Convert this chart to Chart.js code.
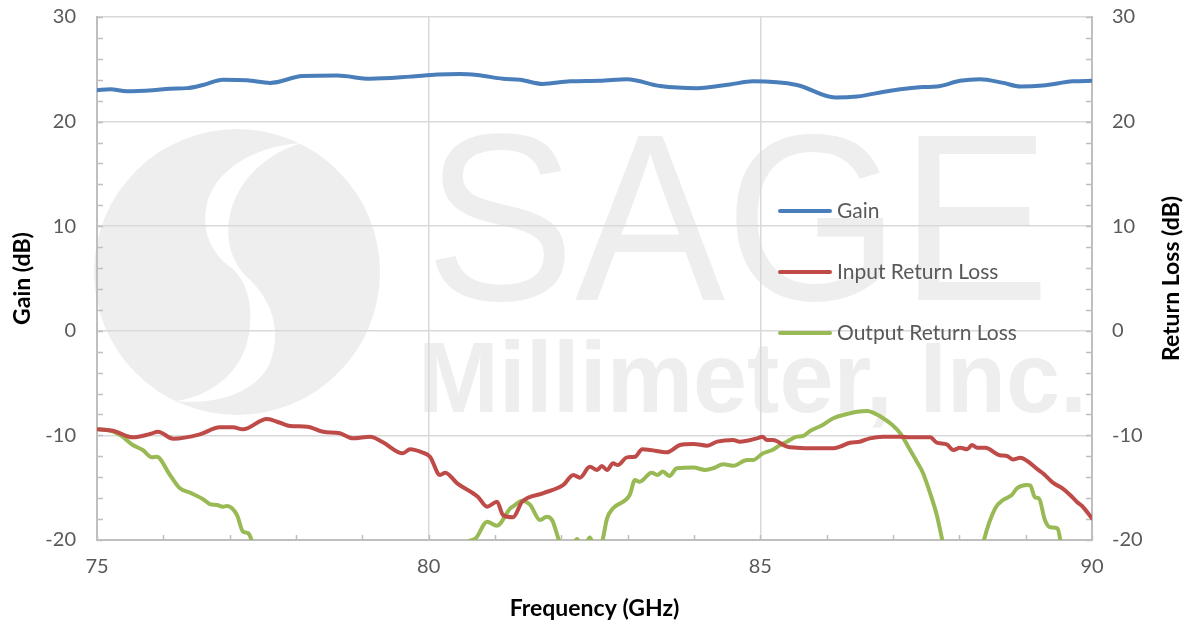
<!DOCTYPE html>
<html><head><meta charset="utf-8">
<script src="https://cdn.jsdelivr.net/npm/chart.js@4.4.1/dist/chart.umd.min.js"></script>
<style>html,body{margin:0;padding:0;background:#fff;}canvas{display:block;}</style>
</head><body>
<canvas id="c" width="1187" height="626"></canvas>
<script>
// ---------- data ----------
const seriesNames = ['Gain', 'Input Return Loss', 'Output Return Loss'];
const xTitle = 'Frequency (GHz)';
const yTitle = 'Gain (dB)';
const y2Title = 'Return Loss (dB)';
const xMin = 75, xMax = 90, xStep = 5, xMinorStep = 1;
const yMin = -20, yMax = 30, yStep = 10, yMinorStep = 2;
const watermarkWord = 'SAGE';
const watermarkLine = 'Millimeter, Inc.';

const gainFreq = [75.0,75.2,75.45,75.84,76.1,76.36,76.6,76.9,77.26,77.61,78.1,78.62,79.12,79.72,80.13,80.47,80.73,81.12,81.38,81.72,82.13,82.58,82.99,83.49,84.05,84.54,84.89,85.55,86.13,86.46,86.96,87.45,87.66,88.01,88.31,88.66,88.92,89.26,89.71,90.0];
const gainDb   = [23.0,23.1,22.9,23.0,23.15,23.2,23.5,24.0,23.95,23.7,24.35,24.4,24.1,24.3,24.5,24.55,24.45,24.1,24.0,23.6,23.85,23.9,24.05,23.4,23.2,23.55,23.85,23.5,22.3,22.4,22.95,23.3,23.35,23.9,24.05,23.7,23.35,23.45,23.85,23.9];

const inFreq = [75.02,75.24,75.54,75.8,75.92,76.15,76.55,76.85,77.05,77.2,77.56,77.76,77.91,78.17,78.41,78.66,78.86,79.12,79.31,79.61,79.72,79.91,80.02,80.17,80.25,80.43,80.74,80.88,81.03,81.12,81.27,81.41,81.72,82.03,82.18,82.28,82.43,82.54,82.61,82.69,82.78,82.85,82.99,83.11,83.22,83.34,83.59,83.79,83.99,84.2,84.35,84.59,84.69,84.95,85.03,85.1,85.19,85.4,85.55,85.79,86.1,86.2,86.35,86.5,86.65,86.85,87.11,87.26,87.56,87.66,87.81,87.91,88.01,88.12,88.19,88.27,88.39,88.61,88.72,88.81,88.92,89.04,89.19,89.26,89.41,89.55,89.67,89.77,89.85,90.0];
const inDb   = [-9.42,-9.55,-10.18,-9.87,-9.65,-10.32,-9.9,-9.23,-9.23,-9.42,-8.43,-8.79,-9.1,-9.17,-9.65,-9.8,-10.28,-10.12,-10.66,-11.71,-11.33,-11.65,-12.04,-13.78,-13.57,-14.58,-15.86,-16.82,-16.34,-17.61,-17.83,-16.34,-15.54,-14.74,-13.78,-14.04,-13.0,-13.3,-12.93,-13.3,-12.67,-12.83,-12.1,-12.04,-11.33,-11.4,-11.62,-10.92,-10.82,-10.98,-10.6,-10.44,-10.6,-10.28,-10.12,-10.44,-10.44,-11.08,-11.18,-11.24,-11.24,-11.08,-10.7,-10.6,-10.28,-10.12,-10.12,-10.18,-10.18,-10.7,-10.86,-11.4,-11.18,-11.33,-10.92,-11.18,-11.18,-11.9,-11.97,-12.3,-12.14,-12.52,-13.3,-13.62,-14.52,-15.05,-15.7,-16.34,-16.75,-17.93];

const outFreq = [75.02,75.17,75.35,75.54,75.69,75.83,75.9,76.1,76.25,76.4,76.6,76.7,76.81,76.9,76.96,77.11,77.2,77.28,77.34,77.45,80.45,80.58,80.7,80.88,81.03,81.23,81.27,81.41,81.53,81.68,81.78,81.86,81.98,82.1,82.24,82.32,82.43,82.52,82.61,82.69,82.78,83.03,83.11,83.18,83.36,83.45,83.53,83.63,83.74,83.99,84.17,84.29,84.44,84.59,84.8,84.89,85.04,85.18,85.3,85.4,85.55,85.64,85.75,85.94,86.1,86.31,86.46,86.61,86.7,86.85,86.99,87.11,87.23,87.36,87.45,87.56,87.66,87.75,87.9,88.25,88.36,88.54,88.66,88.79,88.87,89.02,89.07,89.14,89.2,89.29,89.37,89.48,89.53,89.62,90.0];
const outDb   = [-9.42,-9.49,-9.97,-10.92,-11.4,-12.1,-12.04,-13.78,-15.05,-15.47,-16.1,-16.56,-16.65,-16.82,-16.75,-17.61,-19.2,-19.36,-20.3,-24,-24,-20.3,-19.9,-18.25,-18.63,-16.97,-16.8,-16.24,-16.65,-18.09,-17.77,-18.09,-20.3,-21.5,-19.9,-21.0,-19.75,-21.0,-20.3,-17.93,-16.97,-15.7,-14.27,-14.43,-13.57,-13.78,-13.46,-13.88,-13.14,-13.08,-13.3,-13.14,-12.76,-12.9,-12.35,-12.35,-11.71,-11.4,-10.92,-10.6,-10.12,-10.06,-9.58,-9.0,-8.36,-7.95,-7.73,-7.67,-7.83,-8.36,-9.0,-9.8,-11.08,-12.52,-13.57,-15.54,-17.61,-20.2,-24,-24,-20.3,-16.97,-16.18,-15.7,-15.05,-14.74,-14.8,-15.92,-16.02,-18.09,-18.79,-18.88,-20.3,-24,-25];

const seriesColors = ['#4a7ebb', '#be4b48', '#98b954'];

// ---------- plugins ----------
function fitText(ctx, text, weight, family, left, baseline, width, capH) {
  const size = capH / 0.716;
  ctx.font = weight + ' ' + size + 'px ' + family;
  const w = ctx.measureText(text).width;
  ctx.save();
  ctx.translate(left, baseline);
  ctx.scale(width / w, 1);
  ctx.fillText(text, 0, 0);
  ctx.restore();
}

const watermark = {
  id: 'watermark',
  beforeDraw(chart) {
    const ctx = chart.ctx;
    ctx.save();
    ctx.fillStyle = '#eeeeee';
    ctx.beginPath();
    ctx.ellipse(237, 272, 143, 143, 0, 0, Math.PI * 2);
    ctx.fill();
    ctx.fillStyle = '#ffffff';
    ctx.beginPath();
    ctx.moveTo(302, 143);
    ctx.bezierCurveTo(252, 146, 212, 172, 206, 208);
    ctx.bezierCurveTo(202, 236, 214, 256, 233, 269);
    ctx.bezierCurveTo(247, 283, 252, 303, 250, 325);
    ctx.bezierCurveTo(248, 362, 222, 393, 177, 401);
    ctx.bezierCurveTo(222, 406, 262, 388, 271, 360);
    ctx.bezierCurveTo(282, 328, 270, 298, 248, 278);
    ctx.bezierCurveTo(232, 263, 226, 242, 229, 220);
    ctx.bezierCurveTo(234, 186, 262, 154, 302, 143);
    ctx.closePath();
    ctx.fill();
    ctx.fillStyle = '#eeeeee';
    ctx.textAlign = 'left';
    ctx.textBaseline = 'alphabetic';
    fitText(ctx, watermarkWord, 'normal', '"Liberation Sans", Arial, sans-serif', 425, 300, 625, 170);
    fitText(ctx, watermarkLine, 'bold', '"Liberation Sans Narrow", "Liberation Sans", sans-serif', 418, 412, 669, 72);
    ctx.restore();
  }
};

const minorTicks = {
  id: 'minorTicks',
  beforeDatasetsDraw(chart) {
    const {ctx, chartArea: a, scales: {x, y}} = chart;
    ctx.save();
    ctx.strokeStyle = '#bfbfbf';
    ctx.lineWidth = 1.5;
    ctx.beginPath();
    for (let f = xMin; f <= xMax; f += xMinorStep) {
      const px = Math.round(x.getPixelForValue(f)) + 0.5;
      ctx.moveTo(px, a.bottom);
      ctx.lineTo(px, a.bottom - 5);
    }
    for (let v = yMin; v <= yMax; v += yMinorStep) {
      const py = Math.round(y.getPixelForValue(v)) + 0.5;
      ctx.moveTo(a.left, py); ctx.lineTo(a.left + 6, py);
      ctx.moveTo(a.right, py); ctx.lineTo(a.right - 6, py);
    }
    ctx.stroke();
    ctx.restore();
  }
};

const customLegend = {
  id: 'customLegend',
  afterDatasetsDraw(chart) {
    const ctx = chart.ctx;
    const rows = [211, 272, 333];
    ctx.save();
    ctx.font = '21px Lato, "Open Sans", sans-serif';
    ctx.textBaseline = 'middle';
    ctx.textAlign = 'left';
    chart.data.datasets.forEach((ds, i) => {
      ctx.strokeStyle = ds.borderColor;
      ctx.lineWidth = 4;
      ctx.lineCap = 'round';
      ctx.beginPath();
      ctx.moveTo(780, rows[i]);
      ctx.lineTo(830, rows[i]);
      ctx.stroke();
      ctx.fillStyle = '#595959';
      ctx.fillText(ds.label, 837, rows[i]);
    });
    ctx.restore();
  }
};

const rightTitle = {
  id: 'rightTitle',
  afterDraw(chart) {
    const ctx = chart.ctx;
    const a = chart.chartArea;
    ctx.save();
    ctx.translate(1172, (a.top + a.bottom) / 2);
    ctx.rotate(-Math.PI / 2);
    ctx.font = 'bold 23px Lato, "Open Sans", sans-serif';
    ctx.fillStyle = '#000';
    ctx.textAlign = 'center';
    ctx.textBaseline = 'middle';
    ctx.fillText(y2Title, 0, 0);
    ctx.restore();
  }
};

// ---------- chart ----------
const toPts = (xs, ys) => xs.map((f, i) => ({x: f, y: ys[i]}));
const tickFont = {family: 'Lato', size: 20};
const titleFont = {family: 'Lato', size: 23, weight: 'bold'};
function noPadV(s, w) { s.width = w; s.paddingTop = 0; s.paddingBottom = 0; }
function noPadH(s, h) { s.height = h; s.paddingLeft = 0; s.paddingRight = 0; }

new Chart(document.getElementById('c'), {
  type: 'line',
  data: {
    datasets: [
      {label: seriesNames[0], data: toPts(gainFreq, gainDb), borderColor: seriesColors[0], yAxisID: 'y'},
      {label: seriesNames[1], data: toPts(inFreq, inDb), borderColor: seriesColors[1], yAxisID: 'y2'},
      {label: seriesNames[2], data: toPts(outFreq, outDb), borderColor: seriesColors[2], yAxisID: 'y2'}
    ]
  },
  options: {
    responsive: false,
    animation: false,
    layout: {padding: {top: 17, left: 0, right: 0, bottom: 0}},
    plugins: {legend: {display: false}, tooltip: {enabled: false}},
    elements: {
      point: {radius: 0},
      line: {borderWidth: 4, tension: 0.3, cubicInterpolationMode: 'monotone', fill: false, borderCapStyle: 'round', borderJoinStyle: 'round'}
    },
    scales: {
      x: {
        type: 'linear', min: xMin, max: xMax,
        ticks: {stepSize: xStep, color: '#595959', font: tickFont, padding: 15},
        grid: {color: '#d9d9d9', lineWidth: 1.5, drawTicks: false},
        border: {color: '#bfbfbf', width: 2},
        title: {display: true, text: xTitle, color: '#000', font: titleFont, padding: {top: 0, bottom: 4}},
        afterFit(s) { noPadH(s, 86); }
      },
      y: {
        position: 'left', min: yMin, max: yMax,
        ticks: {stepSize: yStep, color: '#595959', font: tickFont, padding: 21},
        grid: {color: '#d9d9d9', lineWidth: 1.5, drawTicks: false},
        border: {color: '#bfbfbf', width: 2},
        title: {display: true, text: yTitle, color: '#000', font: titleFont, padding: {top: 9, bottom: 0}},
        afterFit(s) { noPadV(s, 97); }
      },
      y2: {
        position: 'right', min: yMin, max: yMax,
        ticks: {stepSize: yStep, color: '#595959', font: tickFont, padding: 20},
        grid: {drawOnChartArea: false, drawTicks: false},
        border: {color: '#bfbfbf', width: 2},
        afterFit(s) { noPadV(s, 95); }
      }
    }
  },
  plugins: [watermark, minorTicks, customLegend, rightTitle]
});
</script>
</body></html>
